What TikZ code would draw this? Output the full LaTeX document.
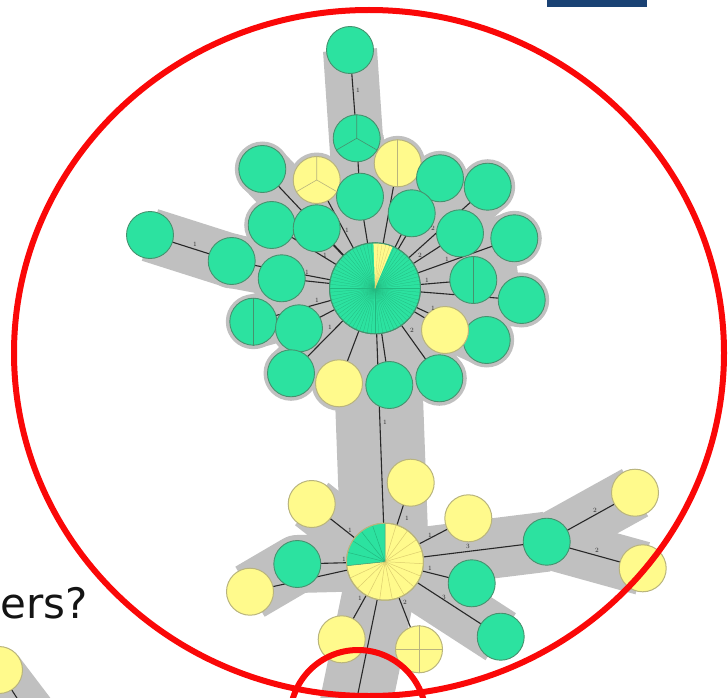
\documentclass[tikz,border=0pt]{standalone}
\usepackage{fontspec}
\newfontfamily\dejavu{DejaVu Sans}
\pgfdeclarelayer{bandlayer}
\pgfdeclarelayer{edgelayer}
\pgfsetlayers{bandlayer,edgelayer,main}
\definecolor{gnode}{RGB}{44,226,160}
\definecolor{gline}{RGB}{70,145,110}
\definecolor{gray2}{RGB}{35,185,128}
\definecolor{ynode}{RGB}{255,250,140}
\definecolor{yline}{RGB}{185,180,125}
\definecolor{yray}{RGB}{220,205,110}
\definecolor{bandc}{RGB}{192,192,192}
\definecolor{edgec}{RGB}{40,40,40}
\definecolor{redc}{RGB}{250,8,8}
\definecolor{navyc}{RGB}{26,66,116}
\tikzset{
  gn/.style={circle, fill=gnode, draw=gline, line width=0.9pt, minimum size=47pt, inner sep=0pt},
  yn/.style={circle, fill=ynode, draw=yline, line width=1pt, minimum size=47pt, inner sep=0pt},
  bandline/.style={draw=bandc, line width=#1, line cap=butt, line join=round},
  mstedge/.style={draw=edgec, line width=1.1pt},
  gsec/.style={draw=gline, line width=0.6pt},
  ysec/.style={draw=yline, line width=0.6pt},
  elab/.style={font=\fontsize{6.5}{6.5}\selectfont, text=edgec, inner sep=0pt},
}
\begin{document}
\begin{tikzpicture}[x=1pt,y=1pt]
\useasboundingbox (0,0) rectangle (728,-698);

% ---------- upper cluster nodes ----------
\node[gn] (t1) at (350,-50) {};
\node[gn] (t2) at (356.7,-138.3) {};
\node[yn] (t3) at (397.7,-163.3) {};
\node[yn] (t4) at (316.7,-180) {};
\node[gn] (t5) at (262.3,-169) {};
\node[gn] (t6) at (360,-196.7) {};
\node[gn] (t7) at (440,-178.3) {};
\node[gn] (t8) at (487.7,-186.7) {};
\node[gn] (t9) at (411.7,-213.3) {};
\node[gn] (t10) at (271.7,-225) {};
\node[gn] (t11) at (316.7,-228.3) {};
\node[gn] (t12) at (150,-235) {};
\node[gn] (t13) at (231.7,-261) {};
\node[gn] (t14) at (281.7,-278.3) {};
\node[gn] (t15) at (460,-233.3) {};
\node[gn] (t16) at (514.3,-238.3) {};
\node[gn] (t17) at (473.3,-280) {};
\node[gn] (t18) at (521.7,-300) {};
\node[gn] (t19) at (253.3,-321.7) {};
\node[gn] (t20) at (299,-328.3) {};
\node[gn] (t22) at (486.7,-340) {};
\node[yn] (t21) at (445,-330) {};
\node[gn] (t23) at (291,-373.3) {};
\node[yn] (t24) at (339,-383.3) {};
\node[gn] (t25) at (389.3,-385) {};
\node[gn] (t26) at (439.3,-378.3) {};
\node[gn, minimum size=91pt] (hub) at (375,-288.3) {};

% sector lines inside small nodes
\draw[gsec] (t2.center) -- (t2.90) (t2.center) -- (t2.210) (t2.center) -- (t2.330);
\draw[ysec] (t4.center) -- (t4.90) (t4.center) -- (t4.210) (t4.center) -- (t4.330);
\draw[ysec] (t3.90) -- (t3.270);
\draw[gsec] (t17.90) -- (t17.270);
\draw[gsec] (t19.90) -- (t19.270);

% upper hub pie
\foreach \a in {0,5,...,355} \draw[draw=gray2, line width=0.25pt] (hub.center) -- (hub.\a);
\begin{scope}[shift={(hub.center)}]
  \fill[ynode] (0,0) -- (67:45pt) arc[start angle=67, end angle=92, radius=45pt] -- cycle;
  \foreach \a in {71,76,81,86} \draw[draw=yray, line width=0.3pt] (0,0) -- (\a:45pt);
  \draw[draw=gline, line width=0.9pt] (0,0) circle[radius=45.5pt];
\end{scope}

% ---------- lower cluster nodes ----------
\node[yn] (L1) at (410.7,-482.7) {};
\node[yn] (L2) at (311.7,-504) {};
\node[yn] (L3) at (468.3,-518.3) {};
\node[gn] (L4) at (546.7,-541.7) {};
\node[yn] (L5) at (635,-492.7) {};
\node[yn] (L6) at (642.7,-568.3) {};
\node[gn] (L7) at (297.3,-564) {};
\node[yn] (L8) at (250,-591.7) {};
\node[gn] (L9) at (471.7,-583.3) {};
\node[gn] (L10) at (500.7,-636.7) {};
\node[yn] (L11) at (341.7,-639.3) {};
\node[yn] (L12) at (419,-649.3) {};
\draw[ysec] (L12.90) -- (L12.270) (L12.0) -- (L12.180);
\node[yn, minimum size=77pt] (lh) at (385,-561.7) {};
\begin{scope}[shift={(lh.center)}]
  \fill[gnode] (0,0) -- (90:38.5pt) arc[start angle=90, end angle=186, radius=38.5pt] -- cycle;
  \foreach \a in {109,128,147,166} \draw[draw=gray2, line width=0.5pt] (0,0) -- (\a:38.5pt);
  \foreach \a in {205,224,243,262,281,300,319,338,357,16,35,54,73} \draw[draw=yray, line width=0.5pt] (0,0) -- (\a:38.5pt);
  \draw[draw=gline, line width=0.5pt] (0,0) -- (90:38.5pt) (0,0) -- (186:38.5pt);
  \draw[draw=yline, line width=1pt] (0,0) circle[radius=38.5pt];
\end{scope}
\coordinate (bot) at (352.5,-720);

% corner partial node
\node[yn] (c0) at (-1,-670) {};
\coordinate (c0e) at (31,-720);
\coordinate (c0b) at (37,-720);

% ---------- bands ----------
\begin{pgfonlayer}{bandlayer}
  \fill[bandc] (hub.center) circle[radius=95pt];
  \draw[bandline=54pt] (t1.center) -- (t6.center) -- (hub.center);
  \draw[bandline=54pt] (t12.center) -- (t13.center) -- (hub.center);
  \foreach \n in {t2,t3,t4,t5,t7,t8,t9,t10,t11,t14,t15,t16,t18,t19,t20,t21,t22,t23,t24,t25,t26}
    \draw[bandline=54pt] (hub.center) -- (\n.center);
  \foreach \n in {t3,t4,t5,t6,t7,t8,t9,t10,t11,t13,t14,t15,t16,t17,t18,t19,t20,t21,t22,t23,t24,t25,t26}
    \fill[bandc] (\n.center) circle[radius=27.5pt];
  \coordinate (tx) at (518,-274);
  \draw[bandline=54pt] (hub.center) -- (t17.center) -- (tx);
  \draw[bandline=88pt] (hub.center) -- (lh.center);
  \draw[bandline=60pt] (lh.center) -- (L4.center);
  \draw[bandline=54pt] (L4.center) -- (L5.center);
  \draw[bandline=54pt] (L4.center) -- (L6.center);
  \draw[bandline=56pt] (lh.center) -- (L10.center);
  \draw[bandline=58pt] (lh.center) -- (L7.center) -- (L8.center);
  \draw[bandline=54pt] (lh.center) -- (L2.center);
  \draw[bandline=72pt] (lh.center) -- (bot);
  \draw[bandline=48pt] (c0.center) -- (c0b);
\end{pgfonlayer}

% ---------- edges ----------
\begin{pgfonlayer}{edgelayer}
  \draw[mstedge] (t1.center) -- (t2.center);
  \draw[mstedge] (t2.center) -- (t6.center);
  \draw[mstedge] (t12.center) -- (t13.center);
  \foreach \n in {t3,t4,t5,t6,t7,t8,t9,t10,t11,t13,t14,t15,t16,t17,t18,t19,t20,t21,t22,t23,t24,t25,t26}
    \draw[mstedge] (hub.center) -- (\n.center);
  \draw[mstedge] (hub.center) -- (lh.center);
  \foreach \n in {L1,L2,L3,L4,L7,L8,L9,L10,L11,L12}
    \draw[mstedge] (lh.center) -- (\n.center);
  \draw[mstedge] (L4.center) -- (L5.center);
  \draw[mstedge] (L4.center) -- (L6.center);
  \draw[mstedge] (lh.center) -- (bot);
  \draw[mstedge] (c0.center) -- (c0e);
\end{pgfonlayer}

% ---------- edge labels ----------
\node[elab] (e1) at (358,-90) {1};
\node[elab] (e2) at (195,-244) {1};
\node[elab] (e3) at (347,-230) {1};
\node[elab] (e4) at (433,-228) {2};
\node[elab] (e5) at (420,-255) {2};
\node[elab] (e6) at (447,-259) {1};
\node[elab] (e7) at (427,-280) {1};
\node[elab] (e8) at (433,-308) {1};
\node[elab] (e9) at (307,-272) {1};
\node[elab] (e10) at (317,-300) {1};
\node[elab] (e11) at (330,-327) {1};
\node[elab] (e12) at (412,-330) {2};
\node[elab] (e13) at (325,-255) {1};
\node[elab] (e14) at (385,-422) {1};
\node[elab] (e15) at (407,-518) {1};
\node[elab] (e16) at (350,-530) {1};
\node[elab] (e17) at (430,-535) {1};
\node[elab] (e18) at (468,-546) {3};
\node[elab] (e19) at (595,-510) {2};
\node[elab] (e20) at (597,-550) {2};
\node[elab] (e21) at (344,-559) {1};
\node[elab] (e22) at (430,-568) {1};
\node[elab] (e23) at (444,-597) {3};
\node[elab] (e24) at (360,-598) {1};
\node[elab] (e25) at (405,-602) {2};

% ---------- slide remnants ----------
\node[anchor=base west, inner sep=0pt, text=black!92, font=\dejavu\fontsize{42}{42}\selectfont] (q) at (0.5,-618) {ers?};
\fill[navyc] (547,0) rectangle (647,-7);

% ---------- red highlight circles ----------
\draw[draw=redc, line width=6pt] (369,-353) ellipse[x radius=355pt, y radius=343pt];
\draw[draw=redc, line width=6pt] (358,-718) circle[radius=68pt];
\end{tikzpicture}
\end{document}
